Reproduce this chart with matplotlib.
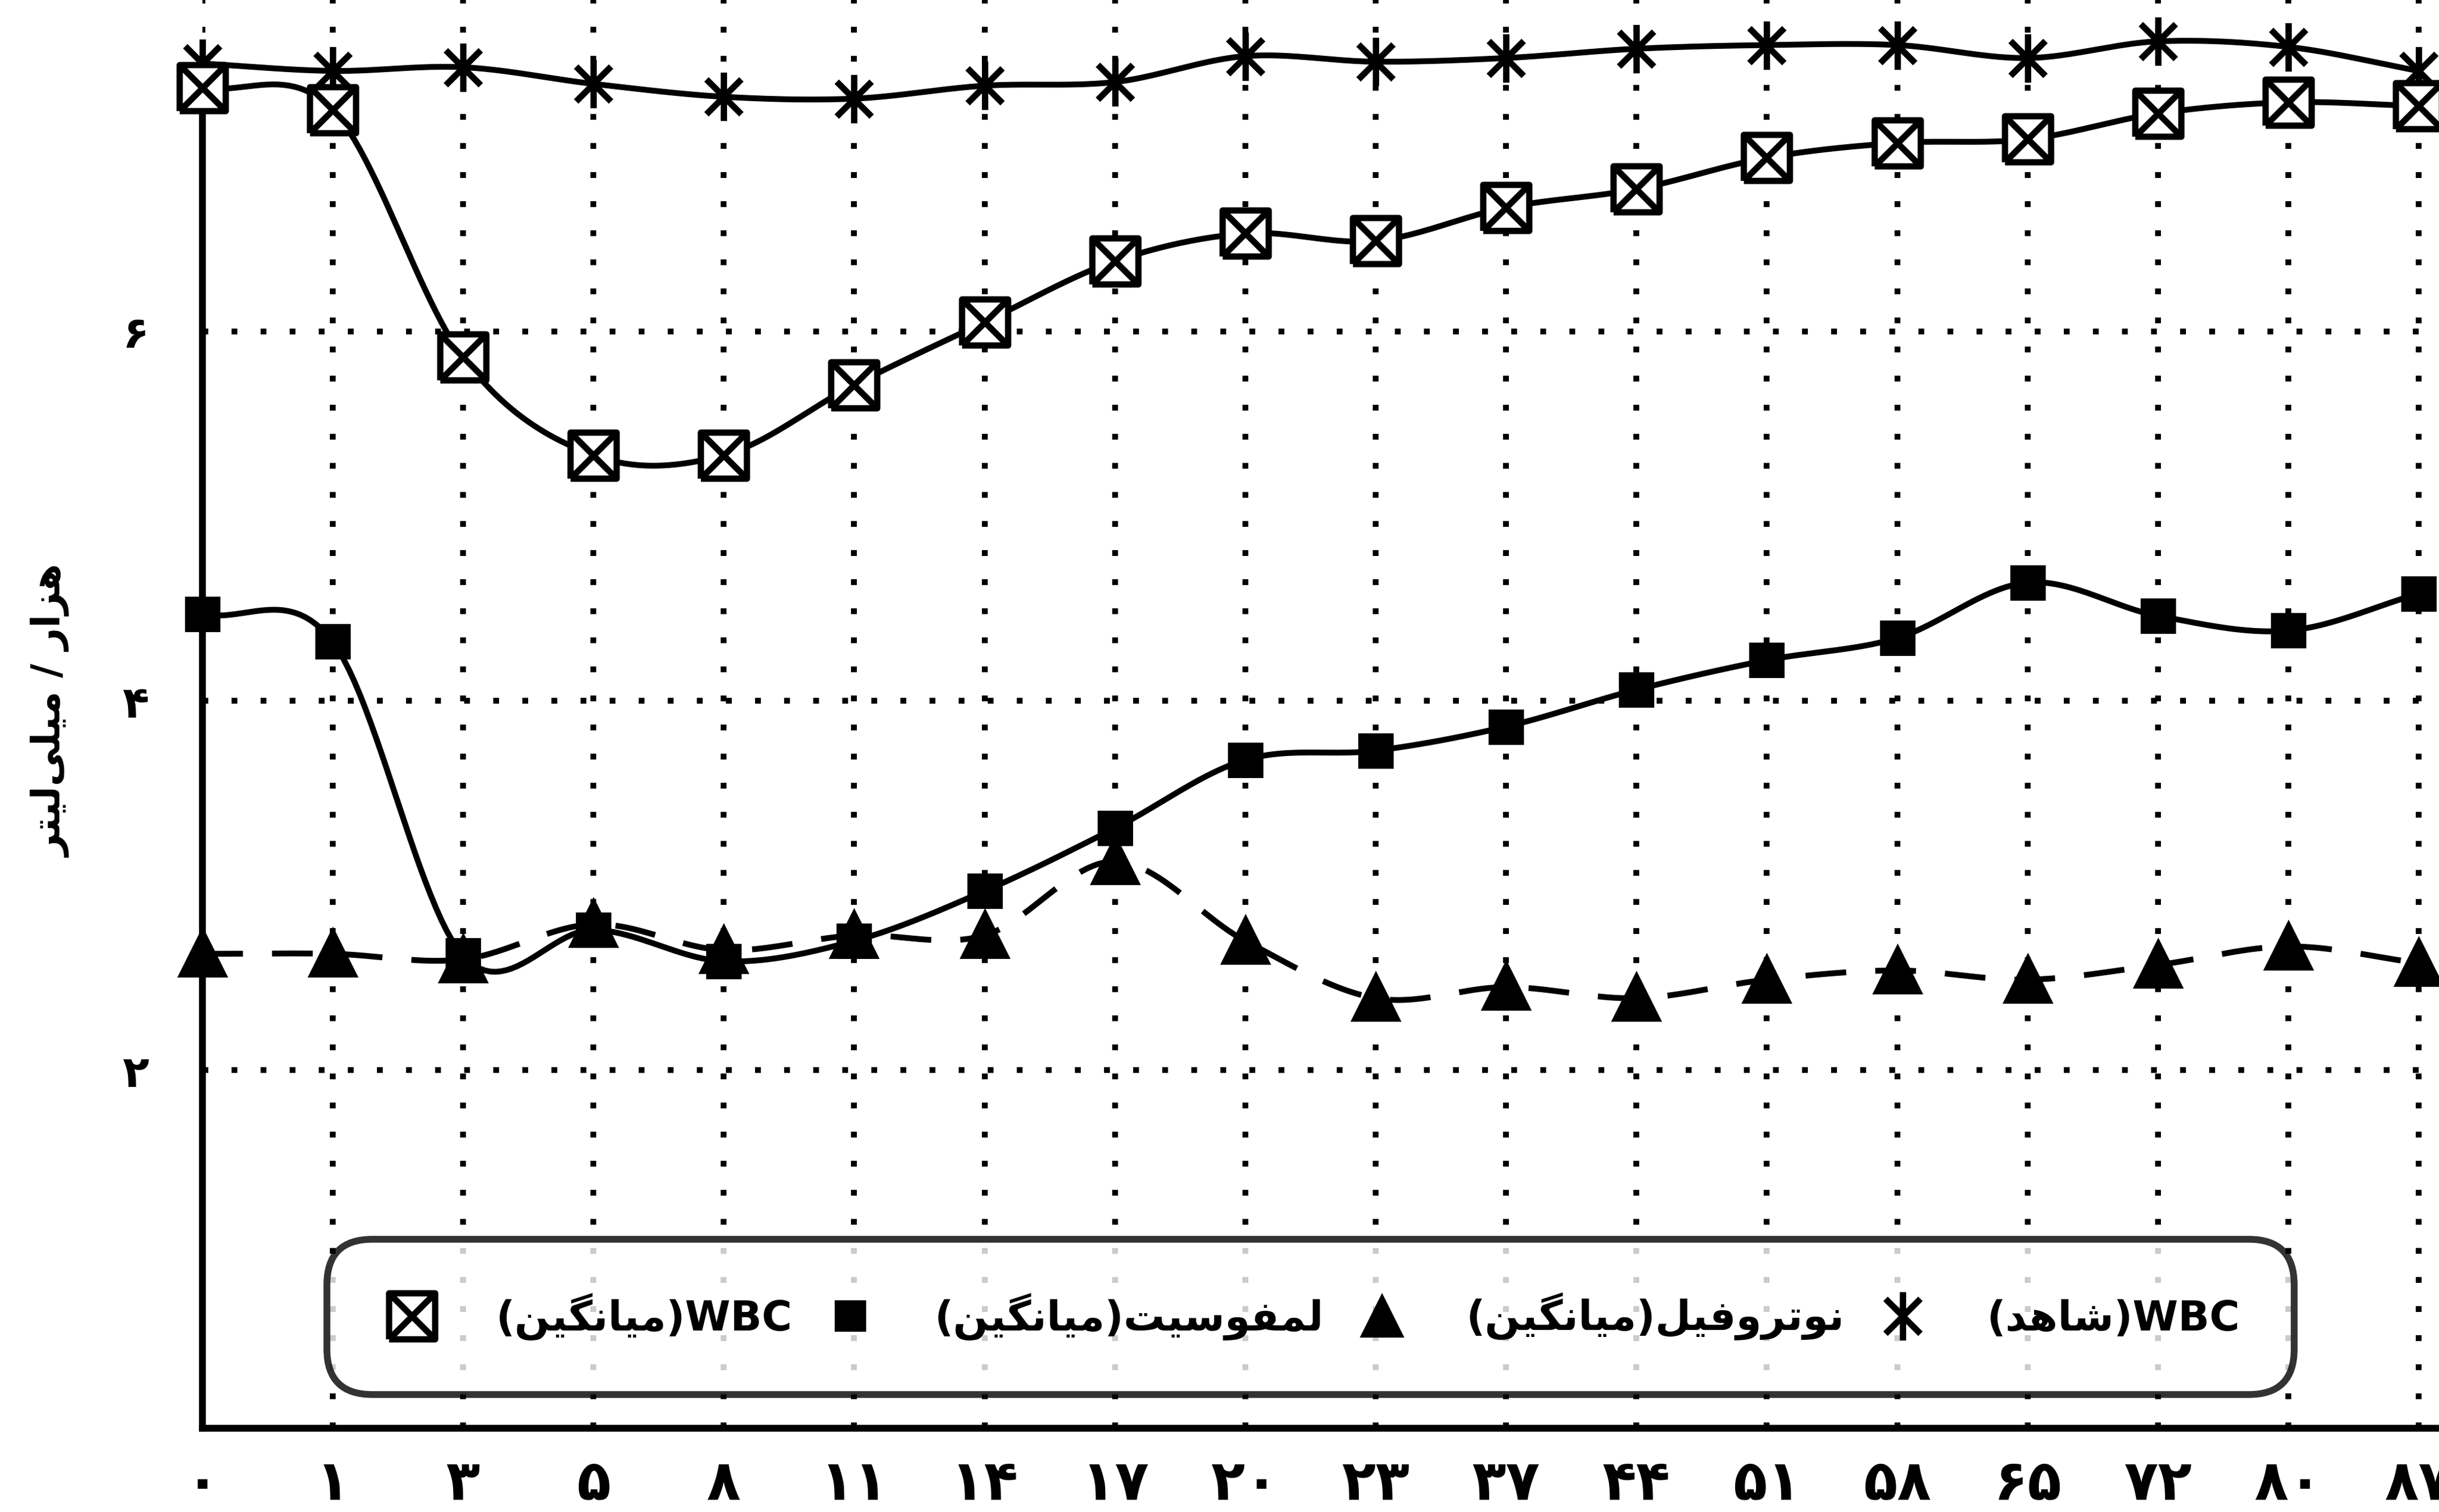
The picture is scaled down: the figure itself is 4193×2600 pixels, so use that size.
import numpy as np
import matplotlib
matplotlib.use("Agg")
import matplotlib.pyplot as plt
from matplotlib.lines import Line2D
from matplotlib.path import Path

plt.rcParams['font.family'] = ['DejaVu Sans']

# ===== داده‌ها (روز) =====
days = ["۰", "۱", "۳", "۵", "۸", "۱۱", "۱۴", "۱۷", "۲۰",
        "۲۳", "۳۷", "۴۴", "۵۱", "۵۸", "۶۵", "۷۲", "۸۰", "۸۷"]
wbc_control = [7.45, 7.41, 7.43, 7.34, 7.27, 7.26, 7.33, 7.35, 7.49,
               7.46, 7.48, 7.53, 7.55, 7.55, 7.48, 7.57, 7.54, 7.41]
wbc_mean = [7.32, 7.20, 5.86, 5.33, 5.33, 5.71, 6.05, 6.38, 6.53,
            6.49, 6.67, 6.77, 6.94, 7.02, 7.04, 7.18, 7.24, 7.22]
lymph_mean = [4.47, 4.32, 2.62, 2.76, 2.59, 2.70, 2.97, 3.31, 3.68,
              3.73, 3.86, 4.06, 4.22, 4.34, 4.64, 4.46, 4.38, 4.58]
neut_mean = [2.63, 2.63, 2.60, 2.79, 2.65, 2.73, 2.73, 3.13, 2.70,
             2.39, 2.45, 2.39, 2.49, 2.54, 2.49, 2.57, 2.67, 2.58]
y_ticks = [2, 4, 6]
y_tick_labels = ["۲", "۴", "۶"]

# ===== شکل‌دهی حروف فارسی (matplotlib خودش اتصال و راست‌به‌چپ ندارد) =====
FORMS = {
    'ا': ('\uFE8D', '\uFE8E', None, None),
    'ت': ('\uFE95', '\uFE96', '\uFE97', '\uFE98'),
    'د': ('\uFEA9', '\uFEAA', None, None),
    'ر': ('\uFEAD', '\uFEAE', None, None),
    'ز': ('\uFEAF', '\uFEB0', None, None),
    'س': ('\uFEB1', '\uFEB2', '\uFEB3', '\uFEB4'),
    'ش': ('\uFEB5', '\uFEB6', '\uFEB7', '\uFEB8'),
    'ف': ('\uFED1', '\uFED2', '\uFED3', '\uFED4'),
    'ل': ('\uFEDD', '\uFEDE', '\uFEDF', '\uFEE0'),
    'م': ('\uFEE1', '\uFEE2', '\uFEE3', '\uFEE4'),
    'ن': ('\uFEE5', '\uFEE6', '\uFEE7', '\uFEE8'),
    'ه': ('\uFEE9', '\uFEEA', '\uFEEB', '\uFEEC'),
    'و': ('\uFEED', '\uFEEE', None, None),
    'ی': ('\uFBFC', '\uFBFD', '\uFBFE', '\uFBFF'),
    'گ': ('\uFB92', '\uFB93', '\uFB94', '\uFB95'),
}


def fa(s):
    out = []
    for i, c in enumerate(s):
        if c not in FORMS:
            if c != '\u200c':
                out.append(c)
            continue
        prev = s[i - 1] if i > 0 else ''
        nxt = s[i + 1] if i + 1 < len(s) else ''
        jp = prev in FORMS and FORMS[prev][2] is not None
        jn = FORMS[c][2] is not None and nxt in FORMS
        f = FORMS[c]
        if jp and jn:
            out.append(f[3])
        elif jp:
            out.append(f[1])
        elif jn:
            out.append(f[2])
        else:
            out.append(f[0])
    return ''.join(out)[::-1]


lab_wbc = "(" + fa("میانگین") + ")" + "WBC"
lab_lym = "(" + fa("میانگین") + ")" + fa("لمفوسیت")
lab_neu = "(" + fa("میانگین") + ")" + fa("نوتروفیل")
lab_ctl = "(" + fa("شاهد") + ")" + "WBC"
y_label = fa("هزار / میلی‌لیتر")


def smooth(xv, yv, n=24):
    p = np.column_stack([xv, yv]).astype(float)
    p = np.vstack([2 * p[0] - p[1], p, 2 * p[-1] - p[-2]])
    t = np.linspace(0, 1, n, endpoint=False)[:, None]
    segs = []
    for i in range(1, len(p) - 2):
        p0, p1, p2, p3 = p[i - 1], p[i], p[i + 1], p[i + 2]
        segs.append(0.5 * (2 * p1 + (-p0 + p2) * t
                           + (2 * p0 - 5 * p1 + 4 * p2 - p3) * t ** 2
                           + (-p0 + 3 * p1 - 3 * p2 + p3) * t ** 3))
    segs.append(p[-2][None, :])
    s = np.vstack(segs)
    return s[:, 0], s[:, 1]


# نشانگرهای سفارشی
M, L = Path.MOVETO, Path.LINETO
box_x = Path([(-1, -1), (1, -1), (1, 1), (-1, 1), (-1, -1), (-1, -1), (1, 1), (-1, 1), (1, -1)],
             [M, L, L, L, L, M, L, M, L])
star6 = Path([(0, -1), (0, 1), (-0.72, -0.72), (0.72, 0.72), (-0.72, 0.72), (0.72, -0.72)],
             [M, L, M, L, M, L])

# ===== رسم =====
fig = plt.figure(figsize=(4193 / 300, 2600 / 300), dpi=300)
ax = fig.add_axes([130 / 1568, 1 - 918 / 972, 1 - 130 / 1568, 918 / 972])

x = np.arange(len(days))
lw = 2.4

ax.set_xlim(0, 17.155)
ax.set_ylim(0.063, 7.794)

for xi in x:
    ax.axvline(xi, color='black', lw=2.4, linestyle=(0, (1, 4)), zorder=1)
for yv in y_ticks:
    ax.axhline(yv, color='black', lw=2.4, linestyle=(0, (1, 4)), zorder=1)

series = [
    (wbc_control, star6, 20, 'none', '-'),
    (wbc_mean, box_x, 19, 'white', '-'),
    (lymph_mean, 's', 12, 'black', '-'),
    (neut_mean, '^', 17, 'black', (0, (7, 5))),
]
for vals, mk, ms, fc, ls in series:
    sx, sy = smooth(x, vals)
    ax.plot(sx, sy, color='black', lw=lw, linestyle=ls, zorder=3, clip_on=False)
    ax.plot(x, vals, linestyle='none', marker=mk, markersize=ms, markerfacecolor=fc,
            markeredgecolor='black', markeredgewidth=2.6, zorder=4, clip_on=False)

ax.spines['top'].set_visible(False)
ax.spines['right'].set_visible(False)
ax.spines['left'].set_linewidth(2.8)
ax.spines['bottom'].set_linewidth(2.8)
ax.spines['left'].set_bounds(0.063, 7.3)

ax.set_xticks(x)
ax.set_xticklabels(days, fontsize=23, fontweight='bold')
ax.set_yticks(y_ticks)
ax.set_yticklabels(y_tick_labels, fontsize=18, fontweight='bold')
ax.tick_params(axis='x', length=0, pad=12)
ax.tick_params(axis='y', length=0, pad=22)

fig.text(33 / 1568, 1 - 457 / 972, y_label, rotation=90, ha='center', va='center',
         fontsize=16, fontweight='bold')

handles = [
    Line2D([], [], linestyle='none', marker=box_x, markersize=19, markerfacecolor='white',
           markeredgecolor='black', markeredgewidth=2.6),
    Line2D([], [], linestyle='none', marker='s', markersize=12, color='black'),
    Line2D([], [], linestyle='none', marker='^', markersize=17, color='black'),
    Line2D([], [], linestyle='none', marker=star6, markersize=20, markerfacecolor='none',
           markeredgecolor='black', markeredgewidth=2.6),
]
leg = ax.legend(handles, [lab_wbc, lab_lym, lab_neu, lab_ctl], ncol=4, mode='expand',
                loc='center', bbox_to_anchor=(205 / 1568, 1 - 893 / 972, 1275 / 1568, 93 / 972),
                bbox_transform=fig.transFigure, fontsize=17, frameon=True, fancybox=True,
                borderpad=1.0, handletextpad=1.3, handlelength=1.5, columnspacing=1.0)
frame = leg.get_frame()
frame.set_edgecolor('black')
frame.set_linewidth(2.8)
frame.set_boxstyle('round', pad=0.3, rounding_size=1.1)
leg.set_zorder(5)
for t in leg.get_texts():
    t.set_fontweight('bold')

fig.savefig("out.png", dpi=300)
